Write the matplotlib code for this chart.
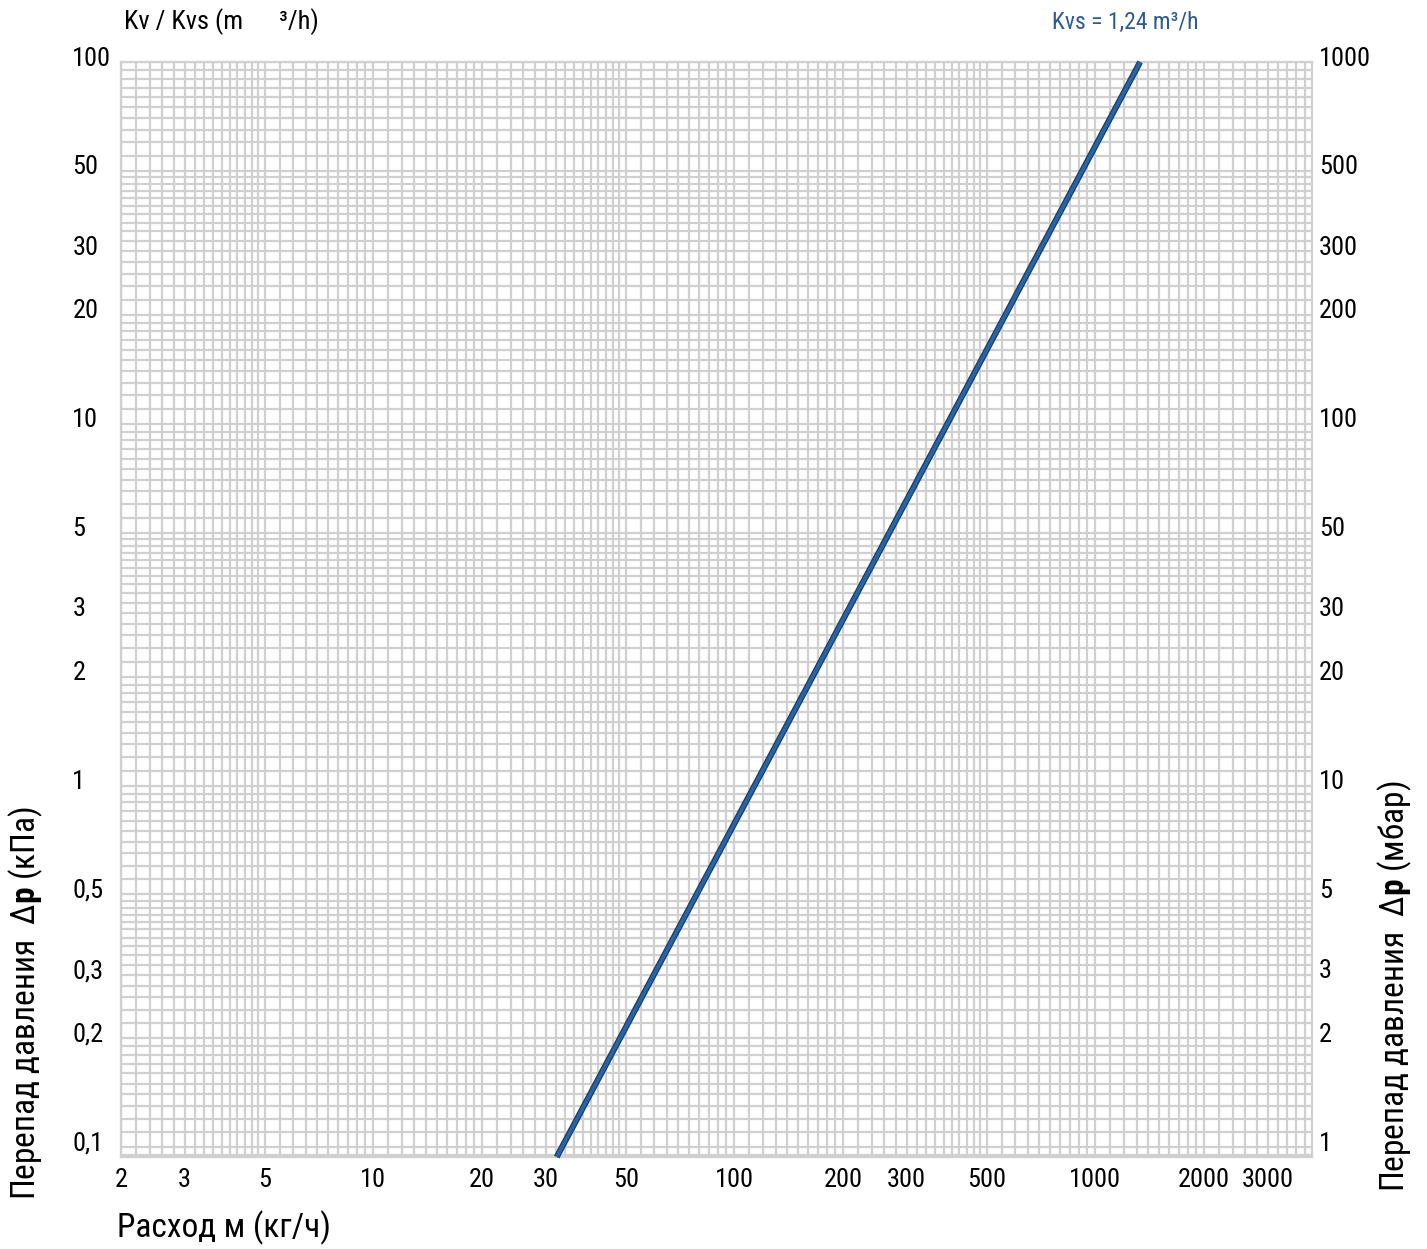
import numpy as np
import matplotlib
matplotlib.use('Agg')
import matplotlib.pyplot as plt
import matplotlib.transforms as mtrans

# данные
flow = [32.2, 1330]          # расход, кг/ч (концы линии)
dp_kpa = [0.094, 100]        # перепад давления, кПа
x_ticks = [2, 3, 5, 10, 20, 30, 50, 100, 200, 300, 500, 1000, 2000, 3000]
y_ticks = [0.1, 0.2, 0.3, 0.5, 1, 2, 3, 5, 10, 20, 30, 50, 100]
y_labels = ['0,1', '0,2', '0,3', '0,5', '1', '2', '3', '5', '10', '20', '30', '50', '100']
y2_labels = ['1', '2', '3', '5', '10', '20', '30', '50', '100', '200', '300', '500', '1000']

plt.rcParams['font.family'] = ['Roboto Condensed', 'DejaVu Sans']
plt.rcParams['mathtext.fontset'] = 'custom'
plt.rcParams['mathtext.rm'] = 'Roboto Condensed'
plt.rcParams['mathtext.bf'] = 'Roboto Condensed:bold'

grid_col = '#d0d0d0'
line_col = '#2a65a3'


def paper_lines(lo, hi):
    # линии миллиметровки: 1-2 шаг 0.1, 2-5 шаг 0.2, 5-10 шаг 0.5
    vals = []
    for e in range(int(np.floor(np.log10(lo))), int(np.ceil(np.log10(hi))) + 1):
        base = 10.0 ** e
        for a, b, s in [(1, 2, 0.1), (2, 5, 0.2), (5, 10, 0.5)]:
            for m in np.arange(a, b - 1e-9, s):
                v = m * base
                if lo <= v <= hi:
                    vals.append(v)
    return vals


fig = plt.figure(figsize=(14.27, 12.49), dpi=100)
ax = fig.add_axes([121 / 1427, 1 - 1157 / 1249, 1191 / 1427, 1095 / 1249])
ax.set_xscale('log')
ax.set_yscale('log')
xlim = (2, 3980)
ylim = (0.094, 100)
ax.set_xlim(xlim)
ax.set_ylim(ylim)

# сетка
for v in paper_lines(*xlim):
    ax.axvline(v, color=grid_col, lw=1.6, zorder=1)
for v in paper_lines(*ylim):
    ax.axhline(v, color=grid_col, lw=1.6, zorder=1)

# линия Kvs
ax.plot(flow, dp_kpa, color='#1b3f6e', lw=4.4, solid_capstyle='butt', zorder=3, clip_on=False)
ax.plot(flow, dp_kpa, color=line_col, lw=2.5, solid_capstyle='butt', zorder=4, clip_on=False)

for s in ax.spines.values():
    s.set_color(grid_col)
    s.set_linewidth(1.6)

up = mtrans.ScaledTranslation(0, 6 / 100, fig.dpi_scale_trans)

ax.xaxis.set_minor_locator(matplotlib.ticker.NullLocator())
ax.yaxis.set_minor_locator(matplotlib.ticker.NullLocator())
ax.set_xticks(x_ticks)
ax.set_xticklabels([str(t) for t in x_ticks])
ax.set_yticks(y_ticks)
ax.set_yticklabels(y_labels)
ax.tick_params(axis='x', length=0, pad=8, labelsize=19)
ax.tick_params(axis='y', length=0, pad=35, labelsize=19)
for lab in ax.get_yticklabels():
    lab.set_horizontalalignment('left')
    lab.set_transform(lab.get_transform() + up)

# правая ось в мбар
ax2 = ax.twinx()
ax2.set_yscale('log')
ax2.set_ylim(ylim[0] * 10, ylim[1] * 10)
ax2.yaxis.set_minor_locator(matplotlib.ticker.NullLocator())
ax2.set_yticks([t * 10 for t in y_ticks])
ax2.set_yticklabels(y2_labels)
ax2.tick_params(axis='y', length=0, pad=5, labelsize=19)
for lab in ax2.get_yticklabels():
    lab.set_transform(lab.get_transform() + up)
for s in ax2.spines.values():
    s.set_visible(False)

# подписи
fig.text(124 / 1427, 1 - 22 / 1249, 'Kv / Kvs (m      ³/h)', fontsize=19, ha='left', va='center')
fig.text(1052 / 1427, 1 - 22 / 1249, 'Kvs = 1,24 m³/h', fontsize=17, ha='left', va='center', color='#2f5b8f')
fig.text(117 / 1427, 1 - 1228 / 1249, 'Расход м (кг/ч)', fontsize=24, ha='left', va='center')
fig.text(26 / 1427, 1 - 1200 / 1249, 'Перепад давления  Δ$\\mathbf{p}$ (кПа)', fontsize=24,
         rotation=90, ha='center', va='bottom')
fig.text(1395 / 1427, 1 - 1192 / 1249, 'Перепад давления  Δ$\\mathbf{p}$ (мбар)', fontsize=24,
         rotation=90, ha='center', va='bottom')

fig.savefig('out.png', dpi=100)
